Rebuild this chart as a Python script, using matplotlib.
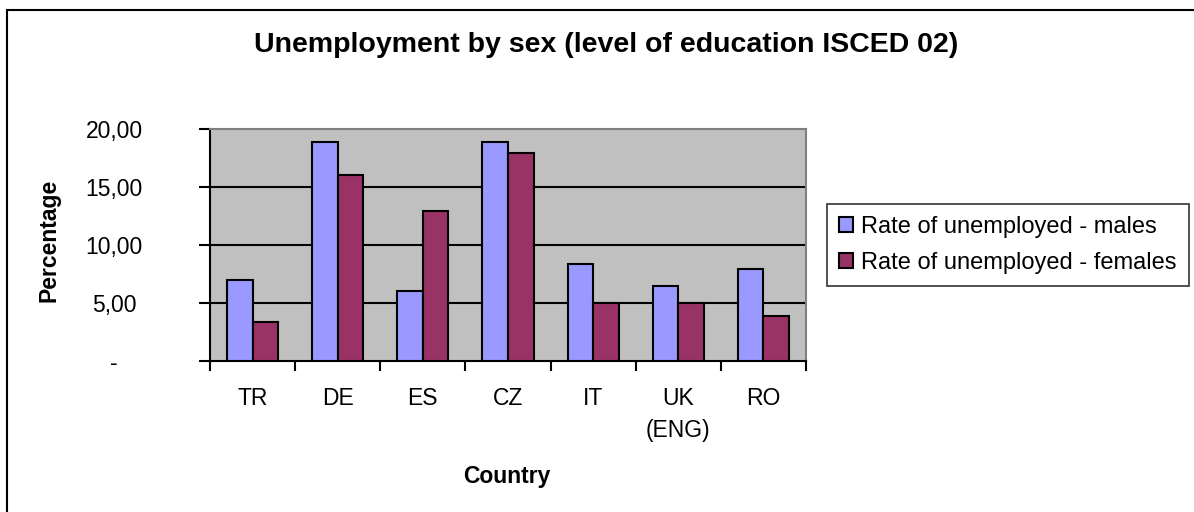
import matplotlib.pyplot as plt
import matplotlib.patches as mpatches
import numpy as np

plt.rcParams['font.family'] = ['Liberation Sans', 'DejaVu Sans']

# data
countries = ['TR', 'DE', 'ES', 'CZ', 'IT', 'UK\n(ENG)', 'RO']
males = [7.0, 18.9, 6.0, 18.9, 8.4, 6.5, 7.9]
females = [3.4, 16.0, 12.9, 17.9, 5.0, 5.0, 3.9]
yticks = [0, 5, 10, 15, 20]
ylabels = ['-', '5,00', '10,00', '15,00', '20,00']

fs = 16.5

fig = plt.figure(figsize=(11.94, 5.12), dpi=100)
ax = fig.add_axes([210/1194, 1-361/512, 596/1194, 232/512])

x = np.arange(len(countries))
w = 0.3
ax.set_facecolor('#C0C0C0')
ax.bar(x - w/2, males, w, color='#9999FF', edgecolor='black', linewidth=1.5,
       label='Rate of unemployed - males', zorder=3)
ax.bar(x + w/2, females, w, color='#993366', edgecolor='black', linewidth=1.5,
       label='Rate of unemployed - females', zorder=3)

ax.set_xlim(-0.5, len(countries) - 0.5)
ax.set_ylim(0, 20)
ax.set_yticks(yticks)
ax.set_yticklabels(ylabels, fontsize=fs, ha='center')
for yv in yticks[1:-1]:
    ax.axhline(yv, color='black', linewidth=1.5, zorder=1)

# category labels centred, ticks on the boundaries
ax.set_xticks(x)
ax.set_xticklabels(countries, fontsize=fs, linespacing=1.5)
ax.tick_params(axis='x', length=0, pad=19)
ax.set_xticks(np.arange(-0.5, len(countries)), minor=True)
ax.tick_params(axis='x', which='minor', length=7, width=1.5, direction='out')
ax.tick_params(axis='y', length=8, width=1.5, direction='out', pad=61)

for s in ['left', 'bottom']:
    ax.spines[s].set_linewidth(1.5)
    ax.spines[s].set_color('black')
for s in ['top', 'right']:
    ax.spines[s].set_linewidth(1.5)
    ax.spines[s].set_color('#808080')

ax.set_ylabel('Percentage', fontsize=fs, fontweight='bold')
ax.yaxis.set_label_coords((60 - 210) / 596, 0.52)
ax.set_xlabel('Country', fontsize=fs, fontweight='bold')
ax.xaxis.label.set_va('baseline')
ax.xaxis.set_label_coords((507 - 210) / 596, (361 - 483) / 232)
fig.text(606/1194, 1-52/512, 'Unemployment by sex (level of education ISCED 02)',
         ha='center', va='baseline', fontsize=20.5, fontweight='bold')

leg = fig.legend(loc='upper left', bbox_to_anchor=(827/1194, 1-204/512),
                 fontsize=17, frameon=True, fancybox=False, edgecolor='black',
                 handlelength=0.6, handleheight=0.6, handletextpad=0.35,
                 borderpad=0.5, labelspacing=0.6, borderaxespad=0)
leg.get_frame().set_linewidth(1.2)

# outer chart border
fig.patches.append(mpatches.Rectangle((7/1194, -0.05), 1.2, 1-10/512+0.05,
                                      transform=fig.transFigure, fill=False,
                                      edgecolor='black', linewidth=1.5))

fig.savefig('out.png', dpi=100)
